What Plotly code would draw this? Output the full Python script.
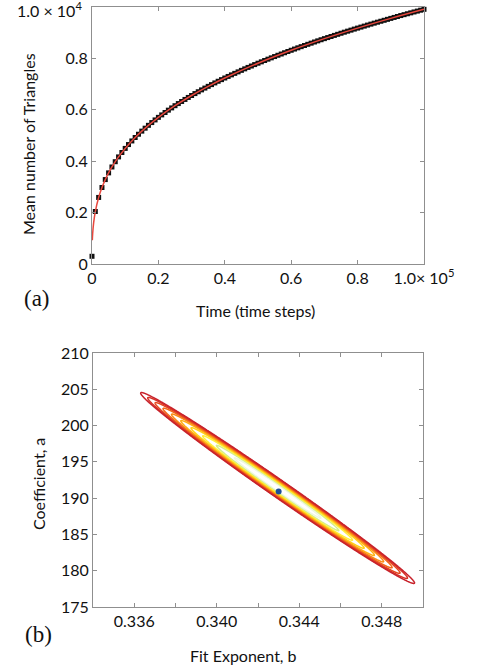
import numpy as np
import plotly.graph_objects as go

# ---------------- panel (a) data ----------------
time_steps = [0, 1000, 2000, 3000, 4000, 5000, 6000, 7000, 8000, 9000, 10000,
              11000, 12000, 13000, 14000, 15000, 16000, 17000, 18000, 19000, 20000,
              21000, 22000, 23000, 24000, 25000, 26000, 27000, 28000, 29000, 30000,
              31000, 32000, 33000, 34000, 35000, 36000, 37000, 38000, 39000, 40000,
              41000, 42000, 43000, 44000, 45000, 46000, 47000, 48000, 49000, 50000,
              51000, 52000, 53000, 54000, 55000, 56000, 57000, 58000, 59000, 60000,
              61000, 62000, 63000, 64000, 65000, 66000, 67000, 68000, 69000, 70000,
              71000, 72000, 73000, 74000, 75000, 76000, 77000, 78000, 79000, 80000,
              81000, 82000, 83000, 84000, 85000, 86000, 87000, 88000, 89000, 90000,
              91000, 92000, 93000, 94000, 95000, 96000, 97000, 98000, 99000, 100000]
mean_triangles = [300, 2042, 2590, 2976, 3285, 3546, 3775, 3980, 4167, 4339, 4498,
                  4648, 4788, 4922, 5049, 5170, 5285, 5396, 5503, 5606, 5706,
                  5802, 5894, 5986, 6074, 6160, 6243, 6324, 6403, 6481, 6557,
                  6631, 6703, 6775, 6845, 6913, 6980, 7046, 7111, 7174, 7237,
                  7298, 7359, 7418, 7476, 7535, 7593, 7649, 7704, 7759, 7813,
                  7866, 7919, 7970, 8021, 8072, 8122, 8171, 8220, 8269, 8317,
                  8364, 8411, 8457, 8502, 8548, 8593, 8638, 8682, 8726, 8769,
                  8811, 8853, 8895, 8937, 8979, 9020, 9060, 9100, 9140, 9179,
                  9218, 9257, 9296, 9334, 9372, 9409, 9446, 9483, 9520, 9557,
                  9594, 9631, 9667, 9702, 9737, 9772, 9807, 9841, 9876, 9910]

fit_time = [100, 200, 500, 1000, 2000, 3000, 4000, 5000, 6000, 8000, 10000, 12000,
            15000, 20000, 25000, 30000, 35000, 40000, 50000, 60000, 70000, 80000,
            90000, 100000]
fit_values = [927, 1176, 1610, 2042, 2590, 2976, 3285, 3546, 3775, 4167, 4498, 4788,
              5170, 5706, 6160, 6557, 6913, 7237, 7813, 8317, 8769, 9179,
              9557, 9910]

x_tickvals_a = [0, 20000, 40000, 60000, 80000, 100000]
x_ticktext_a = ["0", "0.2", "0.4", "0.6", "0.8", "1.0\u00d7 10<sup>5</sup>"]
y_tickvals_a = [0, 2000, 4000, 6000, 8000, 10000]
y_ticktext_a = ["0", "0.2", "0.4", "0.6", "0.8", "1.0 \u00d7 10<sup>4</sup>"]

# ---------------- panel (b) data ----------------
b_best = 0.3430
a_best = 190.9
ellipse_center_b = 0.34295
ellipse_center_a = 191.4
sigma_b = 0.0021
sigma_a = 4.16
rho = -0.994
chi2_levels = [1, 2, 3, 4, 5, 6, 7, 8, 9, 10]
level_colors = ["#eef8e0", "#d6ef8a", "#fff03c", "#ffd21a", "#ffb014",
                "#fb8c16", "#f26a1b", "#e64a20", "#d83226", "#c8222b"]

b_grid = np.linspace(0.3355, 0.3505, 750)
a_grid = np.linspace(176.5, 206.5, 650)
B, A = np.meshgrid(b_grid, a_grid)
u = (B - ellipse_center_b) / sigma_b
v = (A - ellipse_center_a) / sigma_a
chi2 = (u * u - 2 * rho * u * v + v * v) / (1 - rho * rho)

n_lev = len(chi2_levels)
colorscale = [[i / (n_lev - 1), c] for i, c in enumerate(level_colors)]

font_family = "Lato, 'Open Sans', sans-serif"
axis_color = "#8f8f8f"
W, H = 477, 666

fig = go.Figure()

fig.add_trace(go.Scatter(
    x=time_steps, y=mean_triangles, mode="markers",
    marker=dict(symbol="square", size=5, color="#111111"),
    cliponaxis=False, xaxis="x", yaxis="y", showlegend=False))
fig.add_trace(go.Scatter(
    x=fit_time, y=fit_values, mode="lines", line_shape="spline",
    line=dict(color="#e8473d", width=1.5),
    xaxis="x", yaxis="y", showlegend=False))

fig.add_trace(go.Contour(
    x=b_grid, y=a_grid, z=chi2,
    contours=dict(coloring="lines", start=chi2_levels[0], end=chi2_levels[-1], size=1),
    zmin=chi2_levels[0], zmax=chi2_levels[-1],
    colorscale=colorscale,
    line=dict(width=1.5), showscale=False,
    xaxis="x2", yaxis="y2", hoverinfo="skip"))
fig.add_trace(go.Scatter(
    x=[b_best], y=[a_best], mode="markers",
    marker=dict(size=6, color="#1d4f9a"),
    xaxis="x2", yaxis="y2", showlegend=False))

common = dict(showline=True, linecolor=axis_color, linewidth=1, mirror="ticks",
              ticks="inside", ticklen=4, tickcolor=axis_color, showgrid=False,
              zeroline=False, automargin=False, ticklabeloverflow="allow",
              tickfont=dict(family=font_family, size=16, color="#111"))


def px_x(p):
    return p / W


def px_y(p):
    return 1 - p / H


# the top y label is placed as text slightly below its tick so it stays in the page
y_ticktext_axis = y_ticktext_a[:-1] + [""]

fig.update_layout(
    width=W, height=H,
    margin=dict(l=0, r=0, t=0, b=0, autoexpand=False),
    paper_bgcolor="white", plot_bgcolor="white",
    showlegend=False,
    xaxis=dict(domain=[px_x(92), px_x(424)], range=[0, 100000],
               tickvals=x_tickvals_a, ticktext=x_ticktext_a, anchor="y", **common),
    yaxis=dict(domain=[px_y(264), px_y(7)], range=[0, 10000],
               tickvals=y_tickvals_a, ticktext=y_ticktext_axis, anchor="x", **common),
    xaxis2=dict(domain=[px_x(93), px_x(423)], range=[0.334, 0.350],
                tick0=0.336, dtick=0.004, tickformat=".3f", anchor="y2",
                minor=dict(tick0=0.334, dtick=0.002, ticks="inside", ticklen=4,
                           tickcolor=axis_color),
                **common),
    yaxis2=dict(domain=[px_y(607), px_y(353)], range=[175, 210],
                tick0=175, dtick=5, anchor="x2", **common),
)

ann_font = dict(family=font_family, size=16, color="#111")
label_font = dict(family="Liberation Serif, serif", size=23, color="#111")


def add_text(text, x, y, font, angle=0, xanchor="center"):
    fig.add_annotation(text=text, x=px_x(x), y=px_y(y), xref="paper", yref="paper",
                       xanchor=xanchor, yanchor="middle", textangle=angle,
                       showarrow=False, font=font)


add_text(y_ticktext_a[-1], 84, 10, dict(family=font_family, size=16, color="#111"),
         xanchor="right")
add_text("Mean number of Triangles", 28, 144, ann_font, -90)
add_text("Time (time steps)", 255, 310, ann_font)
add_text("(a)", 37, 299, label_font)
add_text("Coefficient, a", 38, 484, ann_font, -90)
add_text("Fit Exponent, b", 243, 655, ann_font)
add_text("(b)", 38, 634, label_font)

fig.write_html("out.html", config={"displayModeBar": False},
               post_script="document.body.style.margin='0';")
